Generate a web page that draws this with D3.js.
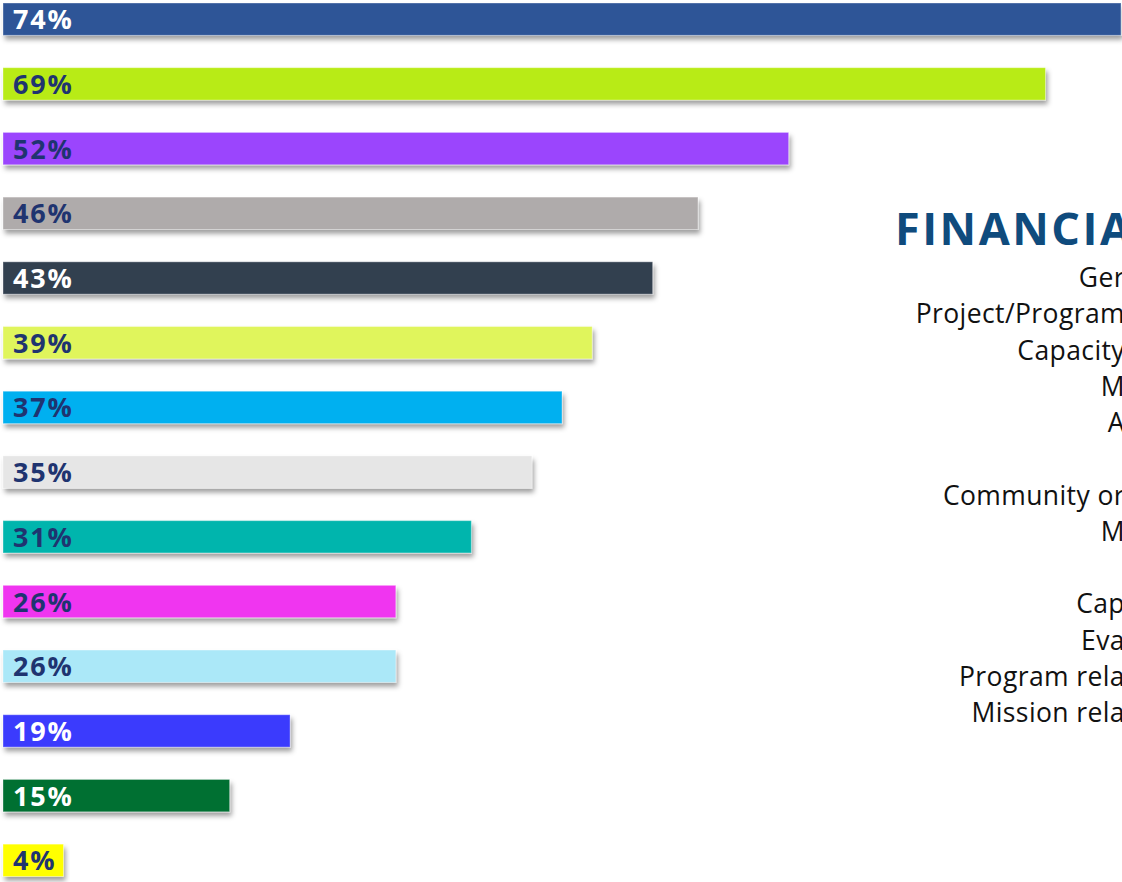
<!DOCTYPE html>
<html>
<head>
<meta charset="utf-8">
<script src="https://cdn.jsdelivr.net/npm/d3@7"></script>
<style>
  html, body { margin: 0; padding: 0; background: #fff; overflow: hidden; }
  svg { display: block; }
</style>
</head>
<body>
<div id="viz"></div>
<script>
// values, top to bottom
const values = [74, 69, 52, 46, 43, 39, 37, 35, 31, 26, 26, 19, 15, 4];
const barColors = ["#2f5597", "#b8eb12", "#9b45fd", "#afabab", "#333f50", "#e0f55c", "#00b0f0",
                   "#e6e6e6", "#04b5ad", "#f036f0", "#abe8f8", "#3b3bfd", "#006f33", "#ffff00"];
const labelColors = ["#fff", "#1f3470", "#1f3470", "#1f3470", "#fff", "#1f3470", "#1f3470",
                     "#1f3470", "#1f3470", "#1f3470", "#1f3470", "#fff", "#fff", "#1f3470"];

// right hand list, only the part that is inside the frame
const title = "FINANCIAL SUPPORT";
const listItems = ["Ger", "Project/Program", "Capacity", "M", "A", "", "Community or", "M", "",
                   "Cap", "Eva", "Program rela", "Mission rela"];

const width = 1122, height = 882;

const svg = d3.select("#viz")
    .append("svg")
    .attr("width", width)
    .attr("height", height);

const defs = svg.append("defs");
const shadow = defs.append("filter")
    .attr("id", "shadow")
    .attr("x", "-5%").attr("y", "-40%")
    .attr("width", "115%").attr("height", "200%");
shadow.append("feDropShadow")
    .attr("dx", 2)
    .attr("dy", 4)
    .attr("stdDeviation", 2.5)
    .attr("flood-color", "#000")
    .attr("flood-opacity", 0.38);

const x = d3.scaleLinear()
    .domain([0, 74])
    .range([3, 1121]);

const y = d3.scaleBand()
    .domain(d3.range(values.length))
    .range([3, 876.5])
    .paddingInner(0.5)
    .paddingOuter(0);

svg.selectAll("rect.bar")
    .data(values)
    .enter()
    .append("rect")
    .attr("class", "bar")
    .attr("x", x(0))
    .attr("y", (d, i) => y(i))
    .attr("width", d => x(d) - x(0))
    .attr("height", y.bandwidth())
    .attr("fill", (d, i) => barColors[i])
    .attr("stroke", "rgba(255,255,255,0.35)")
    .attr("stroke-width", 1)
    .attr("filter", "url(#shadow)");

svg.selectAll("text.label")
    .data(values)
    .enter()
    .append("text")
    .attr("class", "label")
    .attr("x", x(0) + 10)
    .attr("y", (d, i) => y(i) + y.bandwidth() / 2 + 10)
    .text(d => d + "%")
    .style("font-family", "'Open Sans', Lato, sans-serif")
    .style("font-weight", "bold")
    .style("font-size", "27px")
    .style("letter-spacing", "1.8px")
    .style("fill", (d, i) => labelColors[i]);

// title and list on the right
svg.append("text")
    .attr("x", 895)
    .attr("y", 245)
    .text(title)
    .style("font-family", "'Open Sans', Lato, sans-serif")
    .style("font-weight", "bold")
    .style("font-size", "45px")
    .style("letter-spacing", "2.5px")
    .style("fill", "#0f4b7d");

const lineY = d3.scaleLinear()
    .domain([0, listItems.length - 1])
    .range([287, 722]);

svg.selectAll("text.item")
    .data(listItems)
    .enter()
    .append("text")
    .attr("class", "item")
    .attr("x", 1125)
    .attr("y", (d, i) => lineY(i))
    .attr("text-anchor", "end")
    .text(d => d)
    .style("font-family", "'Open Sans', Lato, sans-serif")
    .style("font-size", "26.5px")
    .style("letter-spacing", "0.4px")
    .style("fill", "#111");
</script>
</body>
</html>
